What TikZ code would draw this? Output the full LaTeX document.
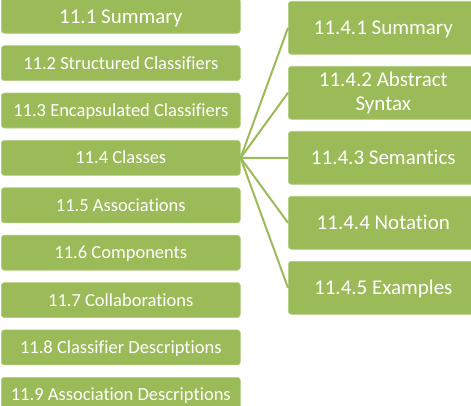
\documentclass[tikz,border=0pt]{standalone}
\usepackage{fontspec}
\setmainfont{Carlito}[Ligatures=NoCommon]
\definecolor{olivegreen}{HTML}{9BBB59}
\begin{document}
\begin{tikzpicture}[x=1pt,y=-1pt,
  topic/.style={fill=olivegreen, draw=olivegreen!75!white, line width=0.6pt,
    rounded corners=3pt, text=white, inner sep=0pt, anchor=north west,
    minimum height=35pt, minimum width=239pt,
    text height=14pt, text depth=2pt,
    font=\fontsize{18.5}{22}\selectfont},
  bigtopic/.style={topic, text height=16.5pt, text depth=2pt,
    font=\fontsize{21}{25}\selectfont},
  subtopic/.style={topic, minimum height=53pt, minimum width=190pt,
    text height=15.5pt, text depth=2.5pt,
    align=center, font=\fontsize{21}{24}\selectfont},
  twoline/.style={subtopic, text height=, text depth=},
  link/.style={draw=olivegreen, line width=2pt}]
\useasboundingbox (0,0) rectangle (471,406);

% chapter sections, left column
\node[bigtopic] (c1) at (1,-2)     {11.1 Summary};
\node[topic]    (c2) at (1,45.4)   {11.2 Structured Classifiers};
\node[topic]    (c3) at (1,92.75)  {11.3 Encapsulated Classifiers};
\node[topic]    (c4) at (1,140.1)  {11.4 Classes};
\node[topic]    (c5) at (1,187.5)  {11.5 Associations};
\node[topic]    (c6) at (1,234.9)  {11.6 Components};
\node[topic]    (c7) at (1,282.25) {11.7 Collaborations};
\node[topic]    (c8) at (1,329.6)  {11.8 Classifier Descriptions};
\node[topic]    (c9) at (1,377)    {11.9 Association Descriptions};

% subsections of 11.4, right column
\node[subtopic] (s1) at (288,1)   {11.4.1 Summary};
\node[twoline]  (s2) at (288,66)  {11.4.2 Abstract\\Syntax};
\node[subtopic] (s3) at (288,131) {11.4.3 Semantics};
\node[subtopic] (s4) at (288,196) {11.4.4 Notation};
\node[subtopic] (s5) at (288,261) {11.4.5 Examples};

% fan of links from 11.4
\foreach \s in {s1,s2,s3,s4,s5}
  \draw[link] (c4.east) -- (\s.west);
\end{tikzpicture}
\end{document}
